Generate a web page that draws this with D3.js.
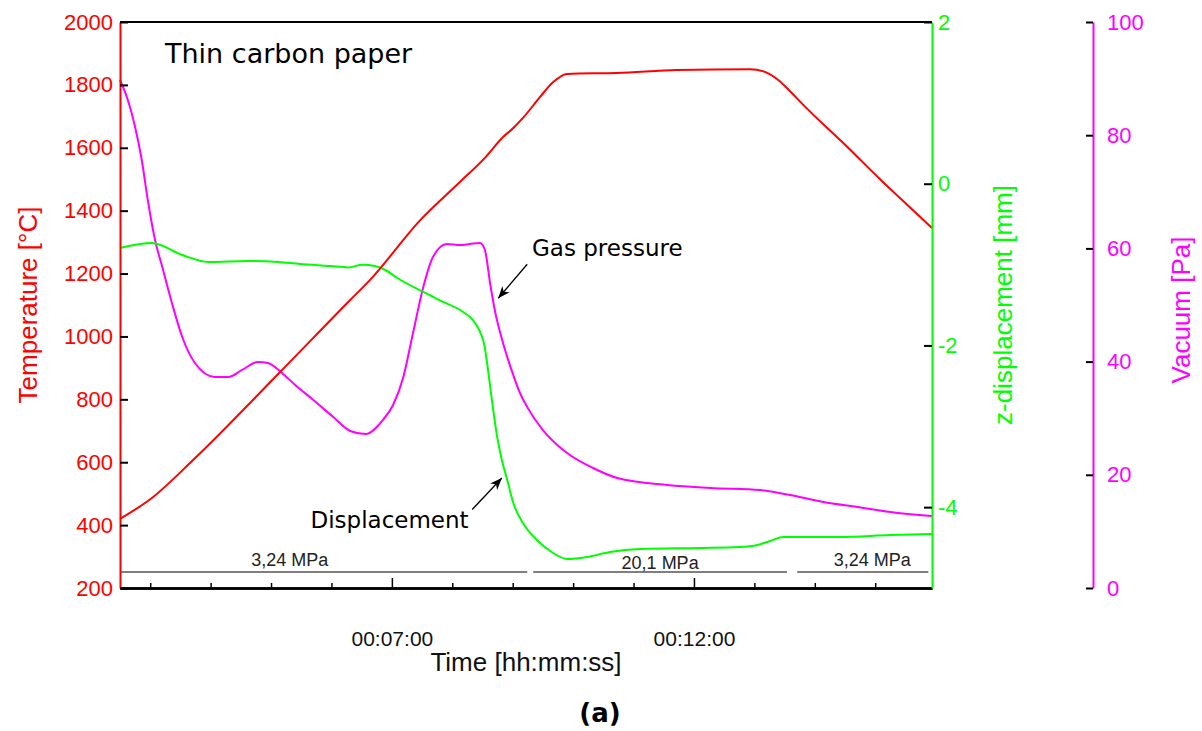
<!DOCTYPE html>
<html>
<head>
<meta charset="utf-8">
<script src="https://cdn.jsdelivr.net/npm/d3@7"></script>
<style>
  body { margin: 0; background: #fff; }
</style>
</head>
<body>
<svg id="chart"></svg>
<script>
// time in minutes
var tempTime  = [2.50, 3.00, 3.71, 5.15, 6.31, 6.64, 7.47, 8.13, 8.54, 8.84, 9.01, 9.17, 9.45, 9.67, 9.90, 10.73, 11.72, 12.93, 13.15, 13.38, 13.59, 13.76, 14.59, 15.08, 15.41, 15.94];
var tempValue = [420, 482, 607, 887, 1116, 1180, 1370, 1492, 1568, 1634, 1663, 1695, 1761, 1809, 1835, 1838, 1847, 1850, 1843, 1818, 1780, 1746, 1593, 1500, 1440, 1345];

var dispTime  = [2.50, 3.03, 3.53, 3.96, 4.62, 5.12, 5.48, 5.98, 6.28, 6.51, 6.72, 6.89, 7.09, 7.52, 7.85, 8.18, 8.34, 8.46, 8.53, 8.58, 8.66, 8.74, 8.82, 8.91, 9.01, 9.17, 9.40, 9.67, 9.90, 10.23, 10.61, 11.11, 12.10, 12.76, 13.05, 13.26, 13.48, 14.42, 15.25, 15.94];
var dispValue = [-0.795, -0.733, -0.881, -0.968, -0.955, -0.968, -0.993, -1.018, -1.035, -1.003, -1.018, -1.067, -1.166, -1.339, -1.462, -1.586, -1.685, -1.833, -1.993, -2.241, -2.699, -3.119, -3.416, -3.664, -3.949, -4.196, -4.406, -4.567, -4.641, -4.616, -4.554, -4.517, -4.505, -4.493, -4.468, -4.418, -4.369, -4.369, -4.344, -4.332];

var vacTime  = [2.50, 2.63, 2.75, 2.86, 2.96, 3.08, 3.20, 3.36, 3.53, 3.74, 4.07, 4.29, 4.52, 4.78, 4.95, 5.18, 5.40, 5.70, 6.03, 6.31, 6.56, 6.85, 7.02, 7.19, 7.35, 7.52, 7.68, 7.91, 8.13, 8.29, 8.46, 8.54, 8.63, 8.71, 8.84, 9.01, 9.12, 9.24, 9.50, 9.90, 10.33, 10.73, 11.56, 12.27, 13.10, 13.59, 14.14, 14.70, 15.25, 15.94];
var vacValue = [89.75, 86.22, 81.45, 75.62, 68.55, 61.48, 56.71, 50.35, 44.35, 39.75, 37.28, 37.28, 38.52, 39.93, 39.75, 37.99, 35.87, 33.22, 30.21, 27.74, 27.21, 29.68, 32.33, 37.28, 45.05, 53.18, 58.48, 60.78, 60.60, 60.78, 60.95, 59.72, 53.53, 48.76, 43.29, 37.60, 34.45, 31.98, 27.90, 23.85, 21.20, 19.43, 18.20, 17.67, 17.31, 16.43, 15.19, 14.31, 13.43, 12.72];

var pressStart = [2.52, 9.34, 13.71];
var pressEnd   = [9.24, 13.54, 15.88];
var pressLabelAt = [5.31, 11.44, 14.95];
var pressLabel = ["3,24 MPa", "20,1 MPa", "3,24 MPa"];

var majorTicks = [7, 12];
var minorTicks = [3, 4, 5, 6, 8, 9, 10, 11, 13, 14, 15];
var tempTicks = [200, 400, 600, 800, 1000, 1200, 1400, 1600, 1800, 2000];
var dispTicks = [2, 0, -2, -4];
var vacTicks = [0, 20, 40, 60, 80, 100];

var W = 1202, H = 731;
var mLeft = 120, mRight = 932, mTop = 22, mBottom = 588, vacAxisX = 1093;

var svg = d3.select("#chart").attr("width", W).attr("height", H);

var x = d3.scaleLinear().domain([2.5, 15.94]).range([mLeft, mRight]);
var yT = d3.scaleLinear().domain([200, 2000]).range([mBottom, mTop]);
var yD = d3.scaleLinear().domain([-5, 2]).range([mBottom, mTop]);
var yV = d3.scaleLinear().domain([0, 100]).range([mBottom, mTop]);

function fmt(m) {
  var mm = Math.floor(m), ss = Math.round((m - mm) * 60);
  return "00:" + d3.format("02")(mm) + ":" + d3.format("02")(ss);
}
function plain(d) { return String(d); }

var axisFont = "'Liberation Sans', Arial, sans-serif";
var annFont = "'DejaVu Sans', Verdana, sans-serif";

// top frame line
svg.append("line")
  .attr("x1", mLeft).attr("x2", mRight).attr("y1", mTop).attr("y2", mTop)
  .attr("stroke", "#000").attr("stroke-width", 2);

// pressure segments
var press = svg.append("g");
press.selectAll("line").data(pressStart).enter().append("line")
  .attr("x1", function(d) { return x(d); })
  .attr("x2", function(d, i) { return x(pressEnd[i]); })
  .attr("y1", mBottom - 16).attr("y2", mBottom - 16)
  .attr("stroke", "#555").attr("stroke-width", 1.5);
press.selectAll("text").data(pressLabelAt).enter().append("text")
  .attr("x", function(d) { return x(d); })
  .attr("y", function(d, i) { return i == 1 ? mBottom - 19 : mBottom - 22; })
  .attr("text-anchor", "middle")
  .style("font-family", axisFont).style("font-size", "18px").style("fill", "#222")
  .text(function(d, i) { return pressLabel[i]; });

// lines
function drawLine(ts, vs, yScale, color) {
  var pts = ts.map(function(t, i) { return [t, vs[i]]; });
  svg.append("path")
    .datum(pts)
    .attr("fill", "none")
    .attr("stroke", color)
    .attr("stroke-width", 2)
    .attr("d", d3.line()
      .x(function(d) { return x(d[0]); })
      .y(function(d) { return yScale(d[1]); })
      .curve(d3.curveMonotoneX));
}
drawLine(vacTime, vacValue, yV, "#ff00ff");
drawLine(dispTime, dispValue, yD, "#00ff00");
drawLine(tempTime, tempValue, yT, "#ff0000");

// bottom axis
var xMinor = svg.append("g").attr("transform", "translate(0," + mBottom + ")")
  .call(d3.axisBottom(x).tickValues(minorTicks).tickSize(-5).tickSizeOuter(0).tickFormat(""));
var xMajor = svg.append("g").attr("transform", "translate(0," + mBottom + ")")
  .call(d3.axisBottom(x).tickValues(majorTicks).tickSize(-10).tickSizeOuter(0).tickPadding(58).tickFormat(fmt));
[xMinor, xMajor].forEach(function(g) {
  g.select(".domain").attr("stroke", "#000").attr("stroke-width", 2.5);
  g.selectAll(".tick line").attr("stroke", "#000").attr("stroke-width", 1.5);
});
xMajor.selectAll("text").attr("dy", 0)
  .style("font-family", axisFont).style("font-size", "21px").style("fill", "#111");

// left axis (temperature)
var gT = svg.append("g").attr("transform", "translate(" + mLeft + ",0)")
  .call(d3.axisLeft(yT).tickValues(tempTicks).tickSize(-8).tickSizeOuter(0).tickPadding(7).tickFormat(plain));
gT.select(".domain").attr("stroke", "#ff0000").attr("stroke-width", 2);
gT.selectAll(".tick line").attr("stroke", "#000").attr("stroke-width", 2);
gT.selectAll("text").style("font-family", axisFont).style("font-size", "22px").style("fill", "#ff0000");

// right axis (displacement)
var gD = svg.append("g").attr("transform", "translate(" + mRight + ",0)")
  .call(d3.axisRight(yD).tickValues(dispTicks).tickSize(-8).tickSizeOuter(0).tickPadding(6).tickFormat(plain));
gD.select(".domain").attr("stroke", "#00ff00").attr("stroke-width", 2);
gD.selectAll(".tick line").attr("stroke", "#000").attr("stroke-width", 2);
gD.selectAll("text").style("font-family", axisFont).style("font-size", "22px").style("fill", "#00ff00");

// far right axis (vacuum)
var gV = svg.append("g").attr("transform", "translate(" + vacAxisX + ",0)")
  .call(d3.axisRight(yV).tickValues(vacTicks).tickSize(-7).tickSizeOuter(0).tickPadding(14).tickFormat(plain));
gV.select(".domain").attr("stroke", "#ff00ff").attr("stroke-width", 2);
gV.selectAll(".tick line").attr("stroke", "#000").attr("stroke-width", 2);
gV.selectAll("text").style("font-family", axisFont).style("font-size", "22px").style("fill", "#ff00ff");

// axis titles
function vTitle(tx, ty, txt, color) {
  svg.append("text")
    .attr("transform", "translate(" + tx + "," + ty + ") rotate(-90)")
    .attr("text-anchor", "middle")
    .style("font-family", axisFont).style("font-size", "26px").style("fill", color)
    .text(txt);
}
vTitle(37, 305, "Temperature [°C]", "#ff0000");
vTitle(1012, 305, "z-displacement [mm]", "#00ff00");
vTitle(1190, 310, "Vacuum [Pa]", "#ff00ff");

svg.append("text")
  .attr("x", (mLeft + mRight) / 2).attr("y", 671)
  .attr("text-anchor", "middle")
  .style("font-family", axisFont).style("font-size", "26px").style("fill", "#111")
  .text("Time [hh:mm:ss]");

svg.append("text")
  .attr("x", 600).attr("y", 722)
  .attr("text-anchor", "middle")
  .style("font-family", annFont).style("font-size", "26px").style("font-weight", "bold")
  .text("(a)");

// annotations
svg.append("text")
  .attr("x", 165).attr("y", 63)
  .style("font-family", annFont).style("font-size", "27px").style("fill", "#000")
  .text("Thin carbon paper");

svg.append("defs").append("marker")
  .attr("id", "arr").attr("viewBox", "0 0 10 10").attr("refX", 10).attr("refY", 5)
  .attr("markerWidth", 12).attr("markerHeight", 12).attr("markerUnits", "userSpaceOnUse")
  .attr("orient", "auto")
  .append("path").attr("d", "M0,1 L10,5 L0,9 L3,5 Z").attr("fill", "#000");

// gas pressure arrow (data units of vacuum axis)
svg.append("line")
  .attr("x1", x(9.24)).attr("y1", yV(57.2)).attr("x2", x(8.76)).attr("y2", yV(51.2))
  .attr("stroke", "#000").attr("stroke-width", 1.3).attr("marker-end", "url(#arr)");
svg.append("text")
  .attr("x", x(9.32)).attr("y", yV(58.7))
  .style("font-family", annFont).style("font-size", "23px").style("fill", "#000")
  .text("Gas pressure");

// displacement arrow (data units of displacement axis)
svg.append("line")
  .attr("x1", x(8.33)).attr("y1", yD(-4.03)).attr("x2", x(8.82)).attr("y2", yD(-3.64))
  .attr("stroke", "#000").attr("stroke-width", 1.3).attr("marker-end", "url(#arr)");
svg.append("text")
  .attr("x", x(8.27)).attr("y", yD(-4.26))
  .attr("text-anchor", "end")
  .style("font-family", annFont).style("font-size", "23px").style("fill", "#000")
  .text("Displacement");
</script>
</body>
</html>
